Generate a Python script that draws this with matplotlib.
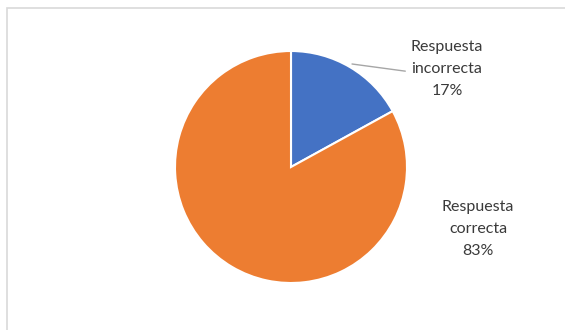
import matplotlib.pyplot as plt
from matplotlib.patches import Rectangle

# datos del grafico
labels = ['Respuesta\nincorrecta', 'Respuesta\ncorrecta']
values = [17, 83]
colors = ['#4472C4', '#ED7D31']

W, H = 565, 330
fig = plt.figure(figsize=(W / 100, H / 100), dpi=100)

# centro del pastel en pixeles
cx, cy, r = 291, 167, 116
ax = fig.add_axes([(cx - r) / W, (H - cy - r) / H, 2 * r / W, 2 * r / H])

wedges, _ = ax.pie(values, colors=colors, startangle=90, counterclock=False,
                   radius=1, wedgeprops=dict(edgecolor='white', linewidth=1.5))
ax.set_xlim(-1, 1)
ax.set_ylim(-1, 1)
ax.set_aspect('equal')
ax.axis('off')

txt = dict(fontsize=11.5, color='#3a3a3a', ha='center', va='center',
           family=['Lato', 'DejaVu Sans'], linespacing=1.75)

total = sum(values)
label_pos = [(1.345, 0.845), (1.612, -0.534)]
for i, (lab, v) in enumerate(zip(labels, values)):
    s = lab + '\n' + str(round(v * 100 / total)) + '%'
    if i == 0:
        ax.annotate(s, xy=(0.526, 0.888), xytext=label_pos[i],
                    annotation_clip=False,
                    arrowprops=dict(arrowstyle='-', color='#a6a6a6', lw=1,
                                    relpos=(0, 0.45), shrinkA=2, shrinkB=0),
                    **txt)
    else:
        ax.text(label_pos[i][0], label_pos[i][1], s, **txt)

# borde del area del grafico
fig.add_artist(Rectangle((7 / W, -0.1), 1.0, (H - 8) / H + 0.1,
                         transform=fig.transFigure, fill=False,
                         edgecolor='#d9d9d9', linewidth=1.2))

fig.savefig('out.png', dpi=100)
